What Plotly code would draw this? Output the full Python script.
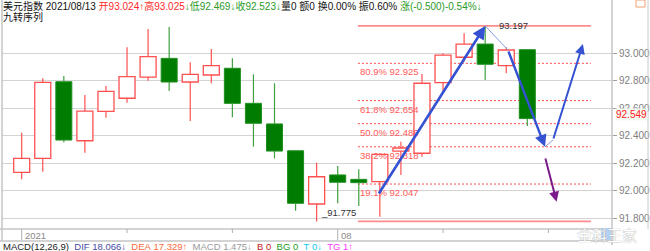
import plotly.graph_objects as go

# ---------------- data ----------------
idx = list(range(25))
opens  = [92.132, 92.234, 92.791, 92.362, 92.576, 92.671, 92.825, 92.961, 92.789, 92.840, 92.889, 92.634, 92.484,
          92.289, 91.902, 92.113, 92.081, 92.064, 92.287, 92.271, 92.784, 92.969, 93.065, 92.908, 93.024]
highs  = [92.420, 92.816, 92.833, 92.695, 92.760, 93.041, 93.175, 93.190, 92.932, 93.029, 92.961, 92.845, 92.780,
          92.289, 92.202, 92.178, 92.154, 92.263, 92.355, 92.847, 92.998, 93.143, 93.197, 93.041, 93.025]
lows   = [92.081, 92.137, 92.351, 92.275, 92.529, 92.639, 92.799, 92.724, 92.505, 92.780, 92.532, 92.319, 92.234,
          91.853, 91.775, 91.907, 91.887, 91.810, 92.113, 92.246, 92.719, 92.937, 92.804, 92.852, 92.469]
closes = [92.234, 92.787, 92.367, 92.578, 92.721, 92.828, 92.973, 92.789, 92.845, 92.908, 92.634, 92.489, 92.287,
          91.907, 92.100, 92.060, 92.057, 92.263, 92.309, 92.780, 92.985, 93.065, 92.918, 93.022, 92.523]

y_ticks = [91.8, 92.0, 92.2, 92.4, 92.6, 92.8, 93.0]
date_tick_idx = [0, 5, 10, 15, 20, 25]
date_tick_text = {0: "2021", 15: "08"}

fib_high = 93.197
fib_low = 91.775
fib_levels = [92.925, 92.654, 92.486, 92.318, 92.047]
fib_labels = ["80.9% 92.925", "61.8% 92.654", "50.0% 92.486", "38.2% 92.318", "19.1% 92.047"]
fib_x = [15.96, 27.02]
fib_label_x = 15.98

# drawn trend arrows: (tail_x, tail_y, head_x, head_y)
blue_arrows = [(16.91, 91.967, 22.0, 93.197), (23.08, 93.022, 24.84, 92.318), (25.22, 92.367, 26.64, 93.065)]
blue_widths = [2.6, 2.4, 2.0]
thin_links = [(22.0, 93.197, 23.08, 93.022), (24.84, 92.318, 25.22, 92.367)]
purple_arrow = (24.84, 92.244, 25.39, 91.919)

last_price_label = "92.549"
last_price_pos = 92.555

# ---------------- geometry ----------------
W, H = 650, 251
ML, MR, MT, MB = 2, 38, 0, 22
PW, PH = W - ML - MR, H - MT - MB
def px(x): return (x - ML) / PW
def py(y): return 1 - (y - MT) / PH

RED = "#ff5050"
GREEN_FILL = "#007d00"
GREEN_LINE = "#1f8f1f"

fig = go.Figure()

# wicks split into segments so hollow bodies stay clean
up_x, up_y, dn_x, dn_y = [], [], [], []
for i, o, h, l, c in zip(idx, opens, highs, lows, closes):
    top, bot = max(o, c), min(o, c)
    for a, b in [(l, bot), (top, h)]:
        if b - a <= 0:
            continue
        if c >= o:
            up_x += [i, i, None]; up_y += [a, b, None]
        else:
            dn_x += [i, i, None]; dn_y += [a, b, None]

fig.add_trace(go.Scatter(x=up_x, y=up_y, mode="lines", line=dict(color=RED, width=1.2),
                         hoverinfo="skip", showlegend=False))
fig.add_trace(go.Scatter(x=dn_x, y=dn_y, mode="lines", line=dict(color="#3fa03f", width=1.2),
                         hoverinfo="skip", showlegend=False))

inc = [i for i in idx if closes[i] >= opens[i]]
dec = [i for i in idx if closes[i] < opens[i]]
fig.add_trace(go.Bar(
    x=inc, base=[min(opens[i], closes[i]) for i in inc],
    y=[max(abs(closes[i] - opens[i]), 0.004) for i in inc],
    width=0.76, marker=dict(color="white", line=dict(color=RED, width=1.3)),
    showlegend=False, hoverinfo="skip"))
fig.add_trace(go.Bar(
    x=dec, base=[min(opens[i], closes[i]) for i in dec],
    y=[max(abs(closes[i] - opens[i]), 0.004) for i in dec],
    width=0.76, marker=dict(color=GREEN_FILL, line=dict(color=GREEN_LINE, width=1)),
    showlegend=False, hoverinfo="skip"))

shapes = []
for lv in [fib_high, fib_low]:
    shapes.append(dict(type="line", xref="x", yref="y", x0=fib_x[0], x1=fib_x[1], y0=lv, y1=lv,
                       line=dict(color="#ff8c8c", width=1.8), layer="between"))
for lv in fib_levels:
    shapes.append(dict(type="line", xref="x", yref="y", x0=fib_x[0], x1=fib_x[1], y0=lv, y1=lv,
                       line=dict(color="#ff4a4a", width=1, dash="2px,2px"), layer="between"))
for (x0, y0, x1, y1) in thin_links:
    shapes.append(dict(type="line", xref="x", yref="y", x0=x0, y0=y0, x1=x1, y1=y1,
                       line=dict(color="#8a9be6", width=1)))

grey = "#c4c4c4"
shapes += [
    dict(type="line", xref="paper", yref="paper", x0=px(2), x1=px(2), y0=py(0), y1=py(241), line=dict(color=grey, width=1.5)),
    dict(type="line", xref="paper", yref="paper", x0=px(0), x1=px(612), y0=py(229), y1=py(229), line=dict(color=grey, width=1.5)),
    dict(type="line", xref="paper", yref="paper", x0=px(0), x1=px(612), y0=py(241), y1=py(241), line=dict(color=grey, width=1.5)),
    dict(type="line", xref="paper", yref="paper", x0=px(612), x1=px(612), y0=py(0), y1=py(245), line=dict(color="#a8a8a8", width=1)),
    dict(type="line", xref="paper", yref="paper", x0=px(648), x1=px(648), y0=py(0), y1=py(229), line=dict(color="#c8c8c8", width=1)),
    dict(type="rect", xref="paper", yref="paper", x0=px(636), x1=px(645), y0=py(7), y1=py(0), line=dict(color="#f0a070", width=1)),
    dict(type="rect", xref="paper", yref="paper", x0=px(601), x1=px(611), y0=py(240), y1=py(228), line=dict(width=0), fillcolor="#b4d0f2"),
]
for t in date_tick_idx:
    long = t in date_tick_text
    shapes.append(dict(type="line", xref="x", yref="paper", x0=t, x1=t, y0=py(229), y1=py(240 if long else 233),
                       line=dict(color="#b0b0b0", width=1)))

annotations = []
FONT = "Liberation Sans, Arial, Noto Sans CJK SC, sans-serif"
red_t, green_t = "#ff2a2a", "#2a9a2a"
def sp(t, c):
    return f'<span style="color:{c}">{t}</span>'
header = (sp("美元指数\u00a02021/08/13\u00a0", "#111") + sp("开93.024↑", red_t) + sp("高93.025", red_t) + sp("↓", green_t)
          + sp("低92.469↓", green_t) + sp("收92.523↓", green_t) + sp("量0\u00a0额0\u00a0换0.00%\u00a0振0.60%\u00a0", "#111")
          + sp("涨(-0.500)-0.54%↓", green_t))
annotations.append(dict(xref="paper", yref="paper", x=px(1), y=py(6), xanchor="left", yanchor="middle",
                        text=header, showarrow=False, font=dict(family=FONT, size=10, color="#111")))
annotations.append(dict(xref="paper", yref="paper", x=px(1), y=py(16.5), xanchor="left", yanchor="middle",
                        text="九转序列", showarrow=False, font=dict(family=FONT, size=10, color="#111")))

macd = (sp("MACD(12,26,9)\u00a0\u00a0", "#222") + sp("DIF\u00a018.066↓\u00a0\u00a0", "#4a4aa8")
        + sp("DEA\u00a017.329↑\u00a0\u00a0", "#ff6a3a") + sp("MACD\u00a01.475↓\u00a0\u00a0", "#999999")
        + sp("B\u00a00\u00a0\u00a0", "#c01818") + sp("BG\u00a00\u00a0\u00a0", "#22a022")
        + sp("T\u00a00↓\u00a0\u00a0", "#10c8e8") + sp("TG\u00a01↑", "#ff38ff"))
annotations.append(dict(xref="paper", yref="paper", x=px(1), y=py(246.5), xanchor="left", yanchor="middle",
                        text=macd, showarrow=False, font=dict(family=FONT, size=9.5, color="#222")))

for t, s in date_tick_text.items():
    annotations.append(dict(xref="x", yref="paper", x=t, y=py(235), xanchor="left", yanchor="middle", xshift=1,
                            text=s, showarrow=False, font=dict(family=FONT, size=9.5, color="#8a8a8a")))

for lv, lab in zip(fib_levels, fib_labels):
    annotations.append(dict(xref="x", yref="y", x=fib_label_x, y=lv, xanchor="left", yanchor="top", yshift=-1,
                            text=lab, showarrow=False, font=dict(family=FONT, size=9.5, color="#ff5a5a")))
annotations.append(dict(xref="x", yref="y", x=22.5, y=fib_high, xanchor="left", yanchor="middle", xshift=1,
                        text=f"{fib_high:.3f}", showarrow=False, font=dict(family=FONT, size=9.5, color="#333")))
annotations.append(dict(xref="x", yref="y", x=15.96, y=fib_low, xanchor="right", yanchor="bottom", yshift=1,
                        text=f"_{fib_low:.3f}", showarrow=False, font=dict(family=FONT, size=9.5, color="#333")))

for (tx, ty, hx, hy), w in zip(blue_arrows, blue_widths):
    annotations.append(dict(x=hx, y=hy, ax=tx, ay=ty, xref="x", yref="y", axref="x", ayref="y", text="",
                            showarrow=True, arrowhead=2, arrowsize=1.0, arrowwidth=w, arrowcolor="#3452d2", standoff=0))
tx, ty, hx, hy = purple_arrow
annotations.append(dict(x=hx, y=hy, ax=tx, ay=ty, xref="x", yref="y", axref="x", ayref="y", text="",
                        showarrow=True, arrowhead=2, arrowsize=1.0, arrowwidth=2, arrowcolor="#7a1a8a", standoff=0))

annotations.append(dict(xref="paper", yref="y", x=px(615), y=last_price_pos, xanchor="left", yanchor="middle",
                        text=last_price_label, showarrow=False, bgcolor="#f3faf3", borderpad=0,
                        font=dict(family=FONT, size=10, color="#ff2020")))
annotations.append(dict(xref="paper", yref="paper", x=px(607), y=py(234), xanchor="center", yanchor="middle",
                        text="金科王家", showarrow=False,
                        font=dict(family="Noto Sans CJK SC", size=15, color="white",
                                  shadow="0px 0px 1px #777")))

fig.update_layout(
    width=W, height=H, margin=dict(l=ML, r=MR, t=MT, b=MB),
    paper_bgcolor="white", plot_bgcolor="white", showlegend=False, barmode="overlay",
    xaxis=dict(range=[-0.935, 28.02], showgrid=False, zeroline=False, showticklabels=False, ticks="",
               showline=False, fixedrange=True),
    yaxis=dict(range=[91.72, 93.3855], side="right", tickvals=y_ticks, tickformat=".3f",
               showgrid=True, gridcolor="#d4d4d4", gridwidth=1.3, zeroline=False,
               ticks="outside", ticklen=4, tickcolor="#a0a0a0", showline=False,
               tickfont=dict(family=FONT, size=10, color="#808080")),
    shapes=shapes, annotations=annotations,
)

fig.write_html("out.html")
